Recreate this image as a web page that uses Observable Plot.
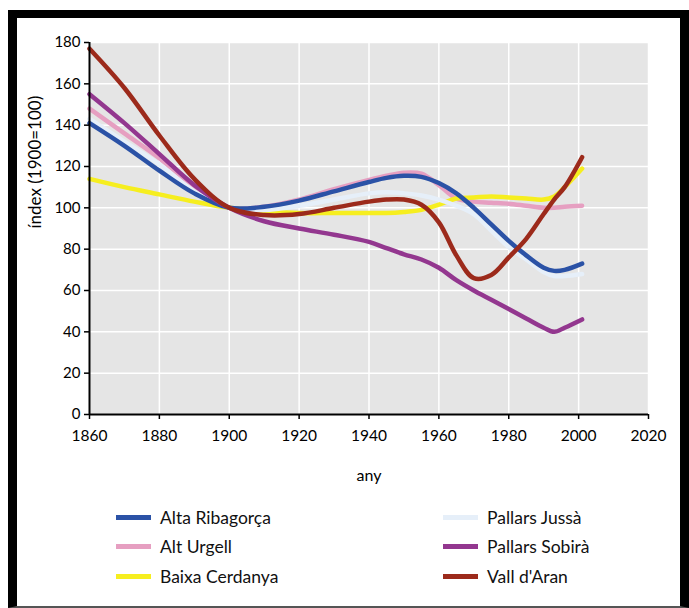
<!DOCTYPE html>
<html>
<head>
<meta charset="utf-8">
<script src="https://cdn.jsdelivr.net/npm/d3@7"></script>
<script src="https://cdn.jsdelivr.net/npm/@observablehq/plot@0.6"></script>
<style>
  html, body { margin: 0; padding: 0; background: #fff; }
  body { width: 689px; height: 608px; position: relative; overflow: hidden; font-family: Lato, "Open Sans", sans-serif; }
  #frame { position: absolute; left: 8px; top: 10px; width: 663px; height: 588px;
           border-left: 9px solid #000; border-right: 9px solid #000; border-top: 8px solid #000; border-bottom: 2px solid #555; }
  #chart { position: absolute; left: 0; top: 0; }
  .legend { position: absolute; font-size: 17.5px; color: #111; }
  .item { position: absolute; white-space: nowrap; height: 22px; line-height: 22px; }
  .sw { position: absolute; left: 0; top: 8px; width: 35px; height: 5px; }
  .lab { position: absolute; left: 44px; top: 0; }
</style>
</head>
<body>
<div id="frame"></div>
<div id="chart"></div>
<div id="legend"></div>
<script>
const years = [1860,1870,1880,1890,1900,1910,1920,1930,1940,1945,1950,1955,1960,1965,1970,1975,1980,1985,1990,1993,1996,2001];
const altaRibagorca = [141,130,118,107,100,100.5,103.5,108,112.5,114.5,115.5,115,112,107,100,92,84,77,71,69.5,70,73];
const altUrgell     = [148,136,124,110,100,100.5,104,109,113.5,115.5,117,116.5,111,104.5,103,102.5,102,101,100,100,100.5,101];
const baixaCerdanya = [114,110,106.5,103,100,98.5,97.5,97.5,97.5,97.5,98,99,101.5,104.5,105,105.5,105,104.5,104,105.5,110,119];
const pallarsJussa  = [143,132,121,108,100,99,101,104,107,107.5,107,106,104,101,97,89,81,75,69,67,67,68];
const pallarsSobira = [155,141,126,111,100,93.5,90,87,83.5,80.5,77.5,75,71,65,60,55.5,51,46.5,42,40,42,46];
const vallDAran     = [177,158,135,114,100,96.5,97,100,103,104,104,101.5,93,77,66,67.5,76,85,97,104,110,124.5];

const seriesNames = ["Alta Ribagorça","Alt Urgell","Baixa Cerdanya","Pallars Jussà","Pallars Sobirà","Vall d'Aran"];
const seriesValues = [altaRibagorca, altUrgell, baixaCerdanya, pallarsJussa, pallarsSobira, vallDAran];
const seriesColors = ["#2b52a6","#e69fc1","#f6ee1f","#e6eff9","#93378f","#9c2a1b"];
const drawOrder = ["Alt Urgell","Baixa Cerdanya","Pallars Jussà","Alta Ribagorça","Pallars Sobirà","Vall d'Aran"];

const xTicks = [1860,1880,1900,1920,1940,1960,1980,2000,2020];
const yTicks = [0,20,40,60,80,100,120,140,160,180];
const xLabel = "any";
const yLabel = "índex (1900=100)";

const rows = [];
seriesNames.forEach((name, i) => {
  years.forEach((yr, j) => rows.push({serie: name, any: yr, index: seriesValues[i][j]}));
});

const chart = Plot.plot({
  width: 680,
  height: 500,
  marginLeft: 89,
  marginRight: 32,
  marginTop: 42,
  marginBottom: 86,
  style: {fontFamily: "Lato, 'Open Sans', sans-serif", fontSize: "15px", color: "#000", background: "transparent"},
  x: {domain: [1860, 2020]},
  y: {domain: [0, 180]},
  color: {domain: seriesNames, range: seriesColors},
  marks: [
    Plot.frame({fill: "#e5e5e5", stroke: null}),
    Plot.gridX(xTicks, {stroke: "#fff", strokeOpacity: 1, strokeWidth: 1.5}),
    Plot.gridY(yTicks, {stroke: "#fff", strokeOpacity: 1, strokeWidth: 1.5}),
    ...drawOrder.map(name => Plot.line(rows.filter(d => d.serie === name), {
      x: "any", y: "index", stroke: "serie", strokeWidth: 4.5, curve: "catmull-rom", strokeLinecap: "round"
    })),
    Plot.ruleY([0], {stroke: "#000", strokeWidth: 2}),
    Plot.ruleX([1860], {stroke: "#000", strokeWidth: 2}),
    Plot.axisX(xTicks, {tickSize: 5, tickPadding: 10, tickFormat: d => String(d), fontSize: 15.5,
      label: null, stroke: "#000", strokeWidth: 1.5}),
    Plot.axisY(yTicks, {tickSize: 5, tickPadding: 4, fontSize: 15,
      label: null, stroke: "#000", strokeWidth: 1.5}),
    Plot.text([xLabel], {frameAnchor: "bottom", dy: 66, fontSize: 16, fill: "#000"}),
    Plot.text([yLabel], {frameAnchor: "left", dx: -54, rotate: -90, fontSize: 17, fill: "#000"})
  ]
});
document.getElementById("chart").appendChild(chart);

const legend = document.getElementById("legend");
legend.className = "legend";
const colX = [116, 443];
const rowY = [507, 536, 566];
seriesNames.forEach((name, i) => {
  const col = Math.floor(i / 3), row = i % 3;
  const it = document.createElement("div");
  it.className = "item";
  it.style.left = colX[col] + "px";
  it.style.top = rowY[row] + "px";
  const sw = document.createElement("div");
  sw.className = "sw";
  sw.style.background = seriesColors[i];
  const lab = document.createElement("span");
  lab.className = "lab";
  lab.textContent = name;
  it.appendChild(sw); it.appendChild(lab);
  legend.appendChild(it);
});
</script>
</body>
</html>
